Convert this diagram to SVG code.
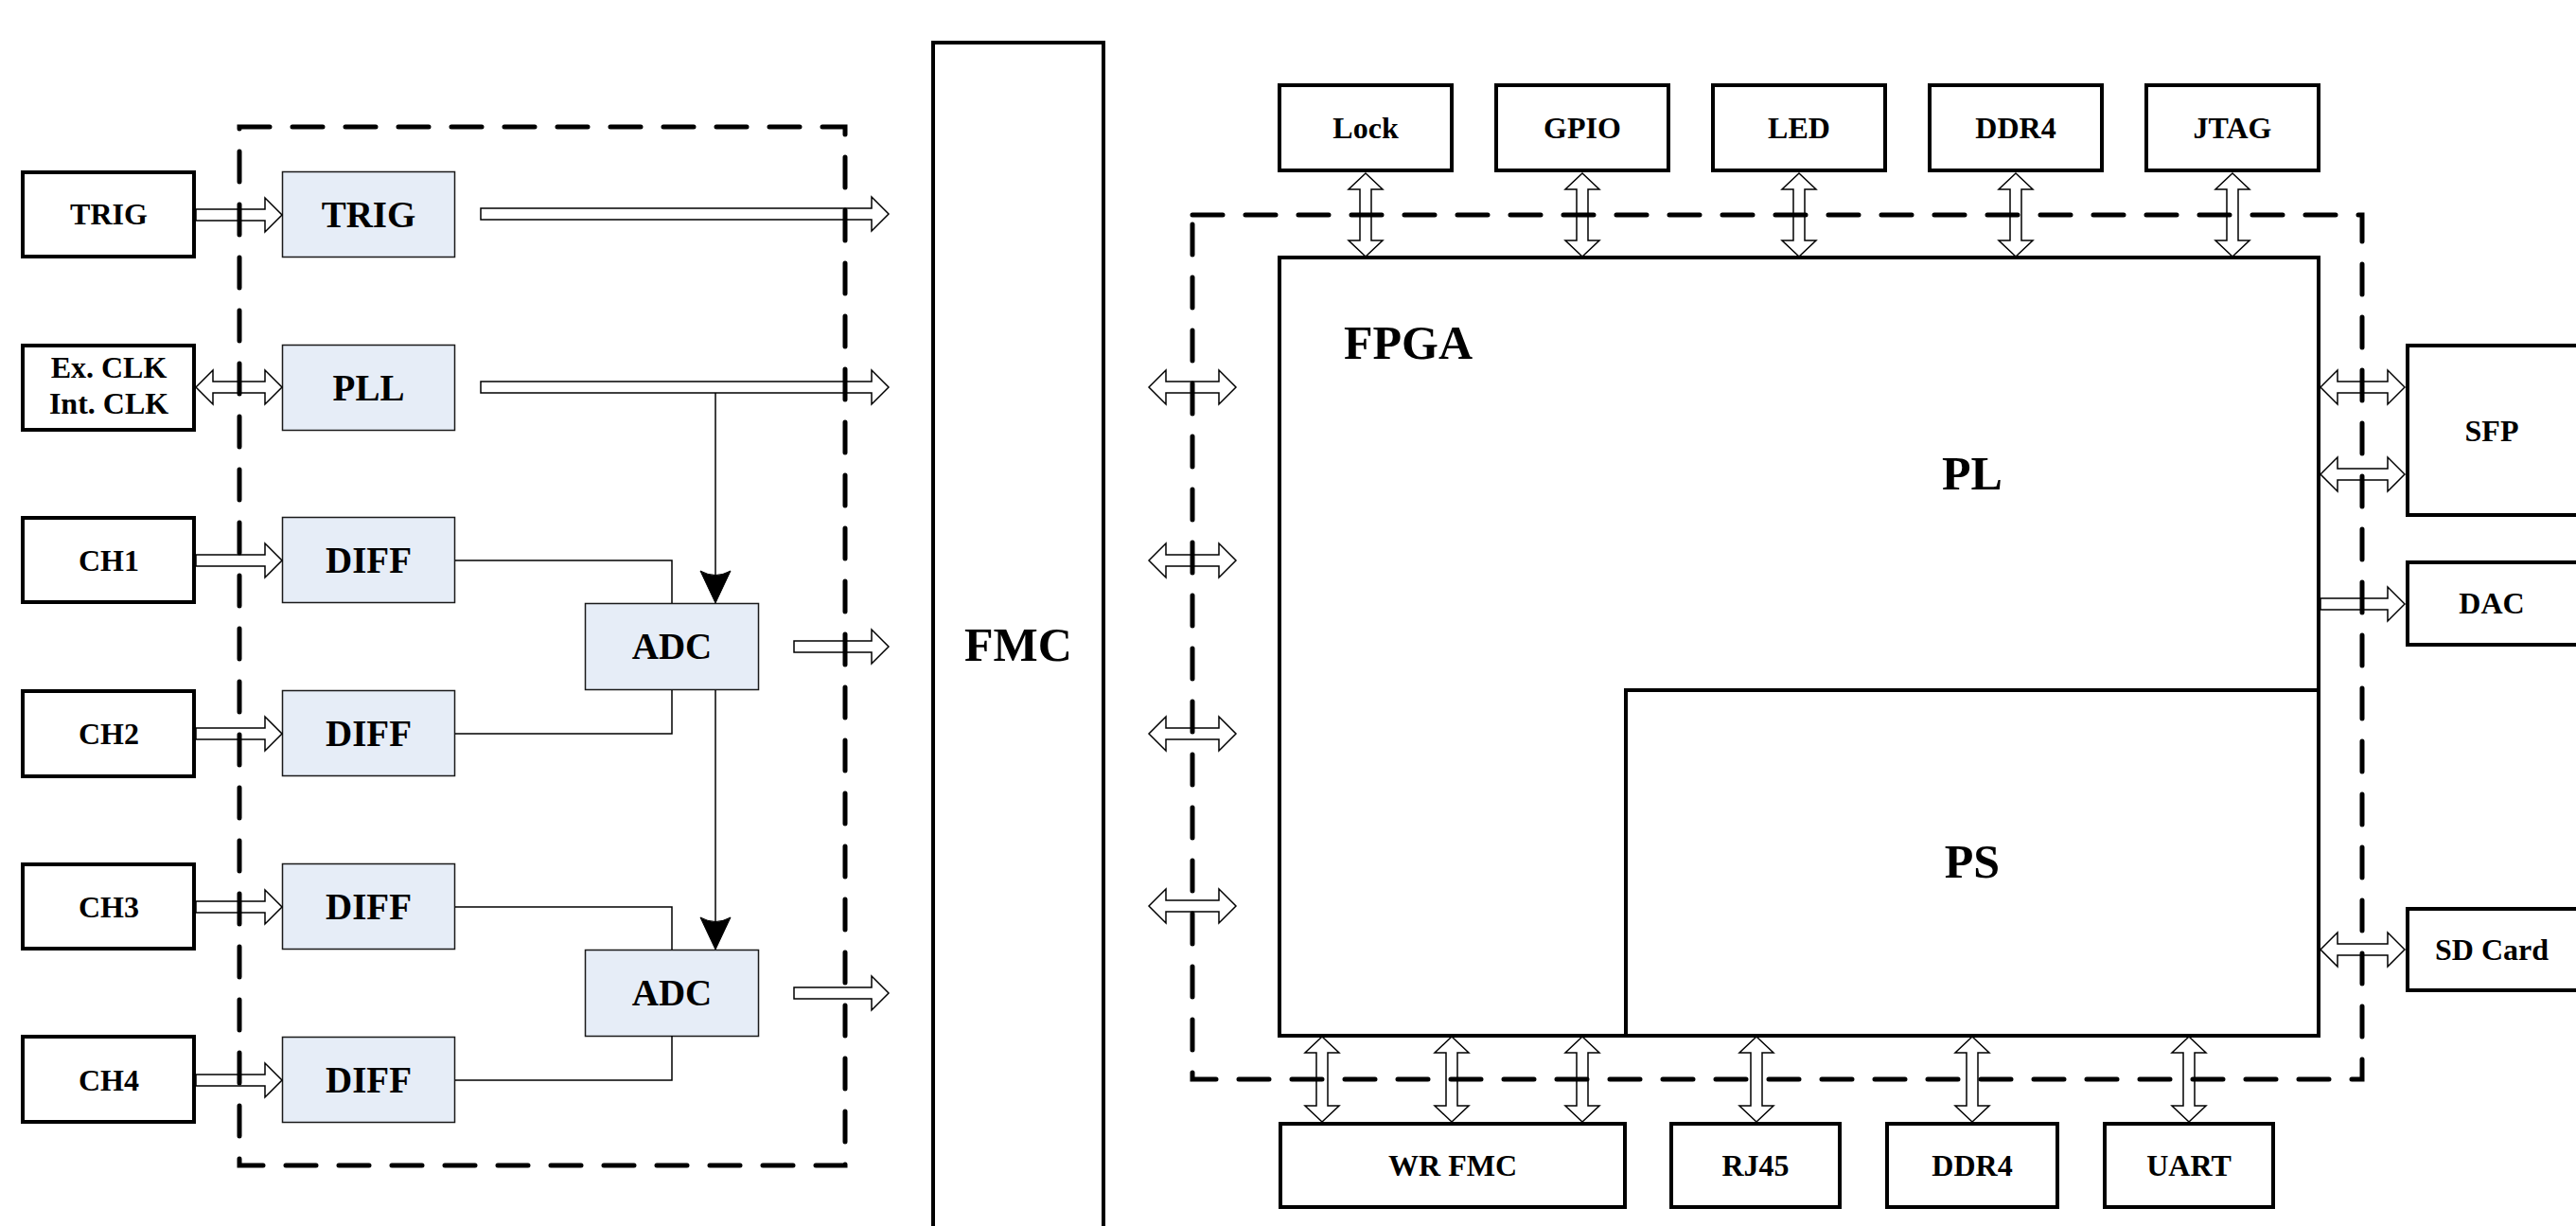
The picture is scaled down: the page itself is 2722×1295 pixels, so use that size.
<svg xmlns="http://www.w3.org/2000/svg" width="2722" height="1295" viewBox="0 0 2722 1295">
<style>
  text { font-family: "Liberation Serif", "Times New Roman", serif; font-weight: bold; fill: #000; text-anchor: middle; }
  .ext { fill: #fff; stroke: #000; stroke-width: 4; }
  .blk { fill: #e6edf7; stroke: #1a1a1a; stroke-width: 1.5; }
  .t32 { font-size: 32px; }
  .t39 { font-size: 39px; }
  .t50 { font-size: 50px; }
  .harrow { fill: #fff; stroke: #000; stroke-width: 1.5; stroke-linejoin: miter; }
  .wire { fill: none; stroke: #000; stroke-width: 1.5; }
  .dash { fill: none; stroke: #000; stroke-width: 5; stroke-dasharray: 32 24; stroke-linecap: round; }
</style>
<rect width="2722" height="1295" fill="#fff"/>

<!-- left external inputs -->
<g id="in-trig"><rect class="ext" x="24" y="182" width="181" height="89"/><text class="t32" x="115" y="237">TRIG</text></g>
<g id="in-clk"><rect class="ext" x="24" y="365" width="181" height="89"/><text class="t32" x="115" y="399">Ex. CLK</text><text class="t32" x="115" y="437">Int. CLK</text></g>
<g id="in-ch1"><rect class="ext" x="24" y="547" width="181" height="89"/><text class="t32" x="115" y="603">CH1</text></g>
<g id="in-ch2"><rect class="ext" x="24" y="730" width="181" height="90"/><text class="t32" x="115" y="786">CH2</text></g>
<g id="in-ch3"><rect class="ext" x="24" y="913" width="181" height="89"/><text class="t32" x="115" y="969">CH3</text></g>
<g id="in-ch4"><rect class="ext" x="24" y="1095" width="181" height="90"/><text class="t32" x="115" y="1152">CH4</text></g>

<!-- front-end blocks -->
<g id="trig"><rect class="blk" x="298.5" y="181.5" width="182" height="90"/><text class="t39" x="389.5" y="240">TRIG</text></g>
<g id="pll"><rect class="blk" x="298.5" y="364.5" width="182" height="90"/><text class="t39" x="389.5" y="423">PLL</text></g>
<g id="diff1"><rect class="blk" x="298.5" y="546.5" width="182" height="90"/><text class="t39" x="389.5" y="605">DIFF</text></g>
<g id="diff2"><rect class="blk" x="298.5" y="729.5" width="182" height="90"/><text class="t39" x="389.5" y="788">DIFF</text></g>
<g id="diff3"><rect class="blk" x="298.5" y="912.5" width="182" height="90"/><text class="t39" x="389.5" y="971">DIFF</text></g>
<g id="diff4"><rect class="blk" x="298.5" y="1095.5" width="182" height="90"/><text class="t39" x="389.5" y="1154">DIFF</text></g>
<g id="adc1"><rect class="blk" x="618.5" y="637.5" width="183" height="91"/><text class="t39" x="710" y="696">ADC</text></g>
<g id="adc2"><rect class="blk" x="618.5" y="1003.5" width="183" height="91"/><text class="t39" x="710" y="1062">ADC</text></g>

<!-- FMC -->
<g id="fmc"><rect class="ext" x="986" y="45" width="180" height="1300"/><text class="t50" x="1076" y="698">FMC</text></g>

<!-- FPGA -->
<g id="fpga"><rect class="ext" x="1352" y="272" width="1098" height="822"/><text class="t50" x="1488" y="379">FPGA</text><text class="t50" x="2084" y="517">PL</text></g>
<g id="ps"><rect class="ext" x="1718" y="729" width="732" height="365"/><text class="t50" x="2084" y="927">PS</text></g>

<!-- top peripherals -->
<g id="lock"><rect class="ext" x="1352" y="90" width="182" height="90"/><text class="t32" x="1443" y="146">Lock</text></g>
<g id="gpio"><rect class="ext" x="1581" y="90" width="182" height="90"/><text class="t32" x="1672" y="146">GPIO</text></g>
<g id="led"><rect class="ext" x="1810" y="90" width="182" height="90"/><text class="t32" x="1901" y="146">LED</text></g>
<g id="ddr4-top"><rect class="ext" x="2039" y="90" width="182" height="90"/><text class="t32" x="2130" y="146">DDR4</text></g>
<g id="jtag"><rect class="ext" x="2268" y="90" width="182" height="90"/><text class="t32" x="2359" y="146">JTAG</text></g>

<!-- bottom peripherals -->
<g id="wrfmc"><rect class="ext" x="1353" y="1187" width="364" height="88"/><text class="t32" x="1535" y="1242">WR FMC</text></g>
<g id="rj45"><rect class="ext" x="1766" y="1187" width="178" height="88"/><text class="t32" x="1855" y="1242">RJ45</text></g>
<g id="ddr4-bot"><rect class="ext" x="1994" y="1187" width="180" height="88"/><text class="t32" x="2084" y="1242">DDR4</text></g>
<g id="uart"><rect class="ext" x="2224" y="1187" width="178" height="88"/><text class="t32" x="2313" y="1242">UART</text></g>

<!-- right peripherals -->
<g id="sfp"><rect class="ext" x="2544" y="365" width="184" height="179"/><text class="t32" x="2633" y="466">SFP</text></g>
<g id="dac"><rect class="ext" x="2544" y="594" width="184" height="87"/><text class="t32" x="2633" y="648">DAC</text></g>
<g id="sdcard"><rect class="ext" x="2544" y="960" width="184" height="86"/><text class="t32" x="2633" y="1014">SD Card</text></g>

<!-- connectors -->
<g id="connectors">
  <polygon class="harrow" points="207,221 280,221 280,209 298,227 280,245 280,233 207,233"/>
  <polygon class="harrow" points="207,409 225,391 225,403 280,403 280,391 298,409 280,427 280,415 225,415 225,427"/>
  <polygon class="harrow" points="207,586 280,586 280,574 298,592 280,610 280,598 207,598"/>
  <polygon class="harrow" points="207,769 280,769 280,757 298,775 280,793 280,781 207,781"/>
  <polygon class="harrow" points="207,952 280,952 280,940 298,958 280,976 280,964 207,964"/>
  <polygon class="harrow" points="207,1135 280,1135 280,1123 298,1141 280,1159 280,1147 207,1147"/>

  <polygon class="harrow" points="508,220 921,220 921,208 939,226 921,244 921,232 508,232"/>
  <polygon class="harrow" points="508,403 921,403 921,391 939,409 921,427 921,415 508,415"/>
  <polygon class="harrow" points="839,677 921,677 921,665 939,683 921,701 921,689 839,689"/>
  <polygon class="harrow" points="839,1043 921,1043 921,1031 939,1049 921,1067 921,1055 839,1055"/>

  <polyline class="wire" points="481,592 710,592 710,637"/>
  <polyline class="wire" points="481,775 710,775 710,729"/>
  <polyline class="wire" points="481,958 710,958 710,1003"/>
  <polyline class="wire" points="481,1141 710,1141 710,1094"/>

  <line class="wire" x1="756" y1="415" x2="756" y2="610"/>
  <path d="M740,603 Q756,612 772,603 L756,637 Z" fill="#000" stroke="#000" stroke-width="1"/>
  <line class="wire" x1="756" y1="729" x2="756" y2="976"/>
  <path d="M740,969 Q756,978 772,969 L756,1003 Z" fill="#000" stroke="#000" stroke-width="1"/>

  <polygon class="harrow" points="1214,409 1232,391 1232,403 1288,403 1288,391 1306,409 1288,427 1288,415 1232,415 1232,427"/>
  <polygon class="harrow" points="1214,592 1232,574 1232,586 1288,586 1288,574 1306,592 1288,610 1288,598 1232,598 1232,610"/>
  <polygon class="harrow" points="1214,775 1232,757 1232,769 1288,769 1288,757 1306,775 1288,793 1288,781 1232,781 1232,793"/>
  <polygon class="harrow" points="1214,957 1232,939 1232,951 1288,951 1288,939 1306,957 1288,975 1288,963 1232,963 1232,975"/>

  <polygon class="harrow" points="1443,183 1461,200 1449,200 1449,254 1461,254 1443,271 1425,254 1437,254 1437,200 1425,200"/>
  <polygon class="harrow" points="1672,183 1690,200 1678,200 1678,254 1690,254 1672,271 1654,254 1666,254 1666,200 1654,200"/>
  <polygon class="harrow" points="1901,183 1919,200 1907,200 1907,254 1919,254 1901,271 1883,254 1895,254 1895,200 1883,200"/>
  <polygon class="harrow" points="2130,183 2148,200 2136,200 2136,254 2148,254 2130,271 2112,254 2124,254 2124,200 2112,200"/>
  <polygon class="harrow" points="2359,183 2377,200 2365,200 2365,254 2377,254 2359,271 2341,254 2353,254 2353,200 2341,200"/>

  <polygon class="harrow" points="1397,1095 1415,1112 1403,1112 1403,1168 1415,1168 1397,1185 1379,1168 1391,1168 1391,1112 1379,1112"/>
  <polygon class="harrow" points="1534,1095 1552,1112 1540,1112 1540,1168 1552,1168 1534,1185 1516,1168 1528,1168 1528,1112 1516,1112"/>
  <polygon class="harrow" points="1672,1095 1690,1112 1678,1112 1678,1168 1690,1168 1672,1185 1654,1168 1666,1168 1666,1112 1654,1112"/>
  <polygon class="harrow" points="1856,1095 1874,1112 1862,1112 1862,1168 1874,1168 1856,1185 1838,1168 1850,1168 1850,1112 1838,1112"/>
  <polygon class="harrow" points="2084,1095 2102,1112 2090,1112 2090,1168 2102,1168 2084,1185 2066,1168 2078,1168 2078,1112 2066,1112"/>
  <polygon class="harrow" points="2313,1095 2331,1112 2319,1112 2319,1168 2331,1168 2313,1185 2295,1168 2307,1168 2307,1112 2295,1112"/>

  <polygon class="harrow" points="2452,409 2470,391 2470,403 2523,403 2523,391 2541,409 2523,427 2523,415 2470,415 2470,427"/>
  <polygon class="harrow" points="2452,501 2470,483 2470,495 2523,495 2523,483 2541,501 2523,519 2523,507 2470,507 2470,519"/>
  <polygon class="harrow" points="2452,632 2523,632 2523,620 2541,638 2523,656 2523,644 2452,644"/>
  <polygon class="harrow" points="2452,1003 2470,985 2470,997 2523,997 2523,985 2541,1003 2523,1021 2523,1009 2470,1009 2470,1021"/>
</g>

<!-- dashed boundaries -->
<g id="frames">
  <rect class="dash" x="253" y="134" width="640" height="1097"/>
  <rect class="dash" x="1260" y="227" width="1236" height="913"/>
</g>
</svg>
